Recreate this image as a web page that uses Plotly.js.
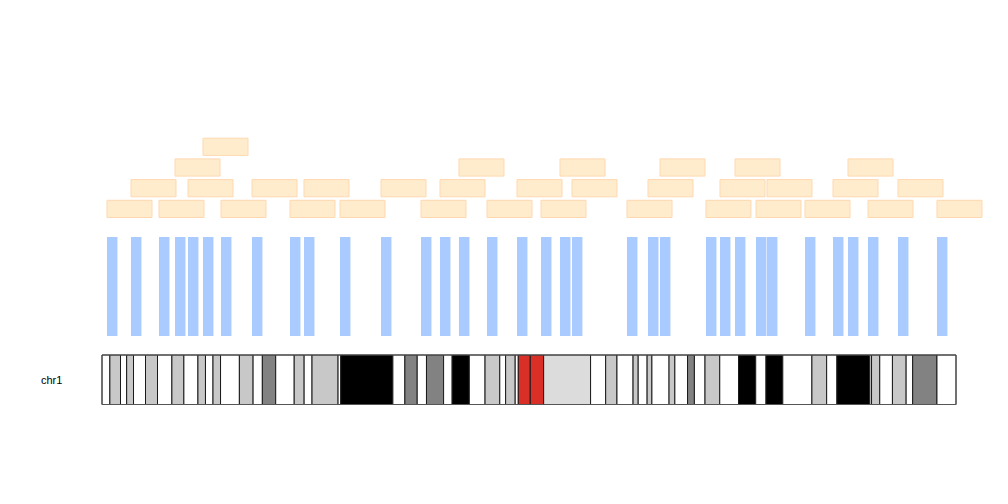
<!DOCTYPE html>
<html>
<head>
<meta charset="utf-8">
<script src="https://cdn.plot.ly/plotly-3.0.1.min.js"></script>
<style>html,body{margin:0;padding:0;background:#fff;}#chart{width:1008px;height:504px;}</style>
</head>
<body>
<div id="chart"></div>
<script>
// chromosome
const chrName = "chr1";
const chrLength = 249250621;

// hg19 chr1 cytobands
const bandStarts = [0,2300000,5400000,7200000,9200000,12700000,16200000,20400000,23900000,28000000,30200000,32400000,34600000,40100000,44100000,46800000,50700000,56100000,59000000,61300000,68900000,69700000,84900000,88400000,92000000,94700000,99700000,102200000,107200000,111800000,116100000,117800000,120600000,121500000,125000000,128900000,142600000,147000000,150300000,155000000,156500000,159100000,160500000,165500000,167200000,170900000,172900000,176000000,180300000,185800000,190800000,193800000,198700000,207200000,211500000,214500000,224100000,224600000,227000000,230700000,234700000,236600000,243700000];
const bandEnds = [2300000,5400000,7200000,9200000,12700000,16200000,20400000,23900000,28000000,30200000,32400000,34600000,40100000,44100000,46800000,50700000,56100000,59000000,61300000,68900000,69700000,84900000,88400000,92000000,94700000,99700000,102200000,107200000,111800000,116100000,117800000,120600000,121500000,125000000,128900000,142600000,147000000,150300000,155000000,156500000,159100000,160500000,165500000,167200000,170900000,172900000,176000000,180300000,185800000,190800000,193800000,198700000,207200000,211500000,214500000,224100000,224600000,227000000,230700000,234700000,236600000,243700000,249250621];
const bandStains = ["gneg","gpos25","gneg","gpos25","gneg","gpos50","gneg","gpos25","gneg","gpos25","gneg","gpos25","gneg","gpos25","gneg","gpos75","gneg","gpos50","gneg","gpos50","gneg","gpos100","gneg","gpos75","gneg","gpos75","gneg","gpos100","gneg","gpos50","gneg","gpos50","gneg","acen","acen","gvar","gneg","gpos50","gneg","gpos50","gneg","gpos50","gneg","gpos50","gneg","gpos75","gneg","gpos50","gneg","gpos100","gneg","gpos100","gneg","gpos25","gneg","gpos100","gneg","gpos25","gneg","gpos50","gneg","gpos75","gneg"];

// feature regions (start, Mb)
const featureStarts = [1.46,8.46,16.64,21.31,25.10,29.48,34.73,43.78,54.87,58.96,69.46,81.43,93.10,98.65,104.19,112.37,121.12,128.13,133.67,137.17,153.23,159.36,162.86,176.28,180.37,184.75,190.88,194.09,205.18,213.35,217.73,223.57,232.32,243.70];
const featureWidth = 3.05; // Mb

const stainColors = {gneg:"#FFFFFF",gpos25:"#C8C8C8",gpos50:"#C8C8C8",gpos75:"#828282",gpos100:"#000000",acen:"#D92F27",gvar:"#DCDCDC",stalk:"#647FA4"};

// pixel geometry
const W = 1008, H = 504;
const chrLeftPx = 102, chrRightPx = 956;
const lenMb = chrLength / 1e6;
const k = (chrRightPx - chrLeftPx) / lenMb; // px per Mb
const xr = [-chrLeftPx / k, (W - chrLeftPx) / k];

const shapes = [];
// cytobands
for (let i = 0; i < bandStarts.length; i++) {
  shapes.push({type:"rect", xref:"x", yref:"y", x0:bandStarts[i]/1e6, x1:bandEnds[i]/1e6, y0:355, y1:404.5,
    fillcolor:stainColors[bandStains[i]], line:{color:"#1a1a1a", width:1}, layer:"above"});
}
// outline
shapes.push({type:"rect", xref:"x", yref:"y", x0:0, x1:lenMb, y0:355, y1:404.5, fillcolor:"rgba(0,0,0,0)", line:{color:"#555555", width:1}, layer:"above"});

// feature bars
for (const s of featureStarts) {
  shapes.push({type:"rect", xref:"x", yref:"y", x0:s, x1:s+featureWidth, y0:237, y1:336,
    fillcolor:"#AACBFF", line:{width:0}, layer:"below"});
}

// label boxes stacked greedily
const boxWidthMb = 45 / k;
const levelEnds = [];
for (const s of featureStarts) {
  let lvl = 0;
  while (lvl < levelEnds.length && levelEnds[lvl] > s) lvl++;
  levelEnds[lvl] = s + boxWidthMb;
  const yTop = 200.3 - lvl * 20.7;
  shapes.push({type:"rect", xref:"x", yref:"y", x0:s, x1:s+boxWidthMb, y0:yTop, y1:yTop+17.2,
    fillcolor:"#FFECCC", line:{color:"#FFD8B0", width:1}, layer:"below"});
}

const layout = {
  width:W, height:H,
  margin:{l:0,r:0,t:0,b:0},
  paper_bgcolor:"#FFFFFF", plot_bgcolor:"#FFFFFF",
  showlegend:false,
  xaxis:{range:xr, visible:false, fixedrange:true},
  yaxis:{range:[H,0], visible:false, fixedrange:true},
  shapes:shapes,
  annotations:[{x:-chrLeftPx/k + 51/k, y:380, xref:"x", yref:"y", text:chrName, showarrow:false,
    font:{family:"Liberation Sans, Arial, sans-serif", size:11, color:"#000"}, xanchor:"center", yanchor:"middle"}]
};

Plotly.newPlot("chart", [{x:[0], y:[0], mode:"markers", marker:{opacity:0}, hoverinfo:"skip"}], layout, {displayModeBar:false, staticPlot:true});
</script>
</body>
</html>
